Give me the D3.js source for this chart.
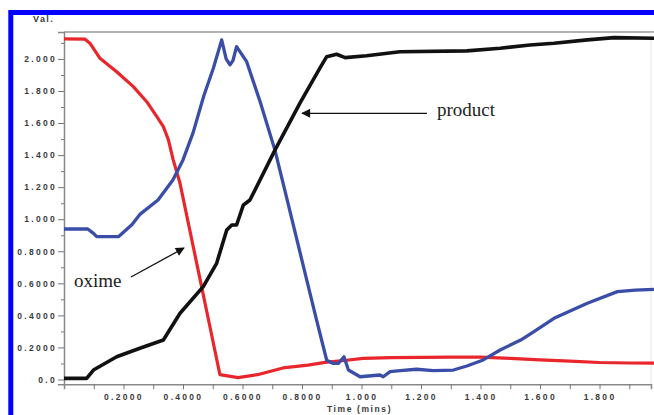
<!DOCTYPE html>
<html><head><meta charset="utf-8">
<script src="https://cdn.jsdelivr.net/npm/d3@7"></script>
<style>body{margin:0;background:#fff}svg{display:block}</style>
</head><body>
<svg id="c" width="654" height="415"></svg>
<script>
// ---- data ----
const oximeT = [0,0.071,0.087,0.121,0.177,0.233,0.278,0.312,0.334,0.351,0.367,0.39,0.45,0.50,0.524,0.585,0.65,0.736,0.82,0.883,0.95,1.005,1.1,1.2,1.3,1.4,1.5,1.6,1.7,1.8,1.9,2.0];
const oximeV = [2.125,2.123,2.098,2.004,1.92,1.827,1.733,1.64,1.578,1.495,1.37,1.224,0.69,0.245,0.03,0.012,0.03,0.072,0.09,0.108,0.12,0.132,0.136,0.138,0.139,0.139,0.132,0.122,0.114,0.106,0.103,0.102];
const interT = [0,0.08,0.10,0.11,0.183,0.228,0.255,0.316,0.366,0.40,0.434,0.47,0.502,0.530,0.545,0.558,0.568,0.580,0.614,0.659,0.709,0.745,0.816,0.849,0.883,0.905,0.922,0.941,0.956,0.995,1.062,1.073,1.096,1.13,1.185,1.241,1.309,1.354,1.409,1.466,1.535,1.577,1.647,1.759,1.86,1.92,2.0];
const interV = [0.939,0.939,0.91,0.891,0.891,0.965,1.03,1.12,1.245,1.37,1.54,1.77,1.942,2.119,2.0,1.963,1.99,2.077,1.983,1.734,1.431,1.16,0.62,0.37,0.12,0.10,0.10,0.142,0.059,0.017,0.028,0.017,0.049,0.055,0.064,0.055,0.059,0.084,0.122,0.184,0.246,0.296,0.382,0.476,0.548,0.558,0.563];
const productT = [0,0.076,0.099,0.177,0.255,0.334,0.39,0.468,0.513,0.547,0.564,0.58,0.603,0.625,0.709,0.793,0.86,0.883,0.916,0.945,1.017,1.129,1.354,1.466,1.566,1.647,1.759,1.849,2.0];
const productV = [0.007,0.007,0.059,0.142,0.195,0.246,0.413,0.579,0.725,0.933,0.964,0.964,1.089,1.12,1.431,1.724,1.942,2.014,2.029,2.008,2.02,2.045,2.05,2.067,2.087,2.098,2.119,2.133,2.129];
const yTicks = [0,0.2,0.4,0.6,0.8,1.0,1.2,1.4,1.6,1.8,2.0];
const yLabels = ["0.0","0.2000","0.4000","0.6000","0.8000","1.000","1.200","1.400","1.600","1.800","2.000"];
const xTicks = [0.2,0.4,0.6,0.8,1.0,1.2,1.4,1.6,1.8];
const xLabels = ["0.2000","0.4000","0.6000","0.8000","1.000","1.200","1.400","1.600","1.800"];
const yMinor = [0.1,0.3,0.5,0.7,0.9,1.1,1.3,1.5,1.7,1.9,2.1];
const xMinor = [0.1,0.3,0.5,0.7,0.9,1.1,1.3,1.5,1.7,1.9];
const annotations = ["oxime","product"];

// ---- layout ----
const L = 64, R = 651, T = 32, B = 384.3;
const x = d3.scaleLinear().domain([0, 1.973]).range([L, R]);
const y = d3.scaleLinear().domain([-0.03, 2.168]).range([B, T]);
const svg = d3.select("#c");

svg.append("defs").append("clipPath").attr("id","clip")
  .append("rect").attr("x",L).attr("y",T).attr("width",R-L+4).attr("height",B-T);
const mk = svg.select("defs").append("marker").attr("id","ah")
  .attr("viewBox","0 0 10 10").attr("refX",9).attr("refY",5)
  .attr("markerWidth",10).attr("markerHeight",9).attr("orient","auto")
  .attr("markerUnits","userSpaceOnUse");
mk.append("path").attr("d","M0,0 L10,5 L0,10 z").attr("fill","#111");

// frame lines
svg.append("line").attr("x1",L).attr("x2",654).attr("y1",T).attr("y2",T)
  .attr("stroke","#999").attr("stroke-width",1.5);
svg.append("line").attr("x1",R).attr("x2",R).attr("y1",T).attr("y2",B)
  .attr("stroke","#e6e6e6").attr("stroke-width",1);

const lblFont = g => g.selectAll("text")
  .attr("font-family","Liberation Sans, Arial, sans-serif")
  .attr("font-weight","bold").attr("font-size","8.5px")
  .attr("letter-spacing","2.3px").attr("fill","#3a3a3a");

// y axis
const gy = svg.append("g").attr("transform",`translate(${L},0)`)
  .call(d3.axisLeft(y).tickValues(yTicks).tickFormat((d,i)=>yLabels[i]).tickSize(6).tickPadding(1));
gy.call(lblFont);
svg.append("g").attr("transform",`translate(${L},0)`)
  .call(d3.axisLeft(y).tickValues(yMinor).tickFormat("").tickSize(3))
  .call(g=>g.select(".domain").remove());
// x axis
const gx = svg.append("g").attr("transform",`translate(0,${B})`)
  .call(d3.axisBottom(x).tickValues(xTicks).tickFormat((d,i)=>xLabels[i]).tickSize(5).tickPadding(5));
gx.call(lblFont);
svg.append("g").attr("transform",`translate(0,${B})`)
  .call(d3.axisBottom(x).tickValues(xMinor).tickFormat("").tickSize(5))
  .call(g=>g.select(".domain").remove());
svg.selectAll(".domain").attr("stroke","#888").attr("stroke-width",1.5);
svg.selectAll(".tick line").attr("stroke","#777");

// axis titles
svg.append("text").attr("x",(L+R)/2+2).attr("y",412).attr("text-anchor","middle")
  .attr("font-family","Liberation Sans, Arial, sans-serif").attr("font-weight","bold")
  .attr("font-size","8.5px").attr("letter-spacing","1.6px").attr("fill","#3a3a3a").text("Time (mins)");
svg.append("text").attr("x",33).attr("y",22)
  .attr("font-family","Liberation Sans, Arial, sans-serif").attr("font-weight","bold")
  .attr("font-size","9px").attr("letter-spacing","1.4px").attr("fill","#3a3a3a").text("Val.");

// series
const line = d3.line().x(d=>x(d[0])).y(d=>y(d[1]));
const series = [
  {t:oximeT, v:oximeV, color:"#e8262b", w:3.2},
  {t:interT, v:interV, color:"#3a4ea8", w:3.3},
  {t:productT, v:productV, color:"#111111", w:3.6}
];
const gp = svg.append("g").attr("clip-path","url(#clip)");
series.forEach(s=>{
  gp.append("path").datum(s.t.map((t,i)=>[t,s.v[i]])).attr("d",line)
    .attr("fill","none").attr("stroke",s.color).attr("stroke-width",s.w)
    .attr("stroke-linejoin","round").attr("stroke-linecap","round");
});

// annotations
const serif = "Liberation Serif, Times New Roman, serif";
svg.append("text").attr("x",74).attr("y",287).attr("font-family",serif)
  .attr("font-size","19px").attr("fill","#222").text(annotations[0]);
svg.append("line").attr("x1",131).attr("y1",277).attr("x2",184).attr("y2",248)
  .attr("stroke","#111").attr("stroke-width",1.3).attr("marker-end","url(#ah)");
svg.append("text").attr("x",437).attr("y",116).attr("font-family",serif)
  .attr("font-size","19px").attr("fill","#222").text(annotations[1]);
svg.append("line").attr("x1",427).attr("y1",113.3).attr("x2",302).attr("y2",113.3)
  .attr("stroke","#111").attr("stroke-width",1.3).attr("marker-end","url(#ah)");

// blue outer frame
svg.append("rect").attr("x",10.8).attr("y",12.5).attr("width",700).attr("height",450)
  .attr("fill","none").attr("stroke","#0000ff").attr("stroke-width",5);
</script>
</body></html>
